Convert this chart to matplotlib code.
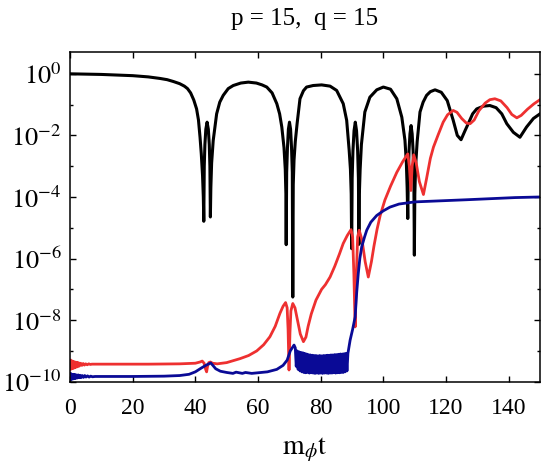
import numpy as np
import matplotlib
matplotlib.use("Agg")
import matplotlib.pyplot as plt
from matplotlib.ticker import FixedLocator, FixedFormatter, NullFormatter

plt.rcParams['font.family'] = ['Liberation Serif', 'DejaVu Serif']
plt.rcParams['mathtext.fontset'] = 'stix'

# values, as (t, log10 of the quantity)
black_t = [0, 10, 20, 25, 28.7, 31, 33, 35, 36.5, 37.5, 38.5, 39.5, 40.4, 41.0, 41.5, 41.9, 42.3, 42.55,
           42.7, 42.85, 43.05, 43.35, 43.75, 44.15, 44.45, 44.65, 44.8, 44.95, 45.2, 45.7, 46.8, 47.8,
           48.9, 50.5, 52.1, 54.5, 56.9, 59.5, 61.3, 62.8, 64.5, 66.0, 66.9, 67.6, 68.3, 68.7, 68.9,
           69.0, 69.15, 69.4, 69.7, 70.05, 70.4, 70.7, 70.95, 71.1, 71.25, 71.5, 71.9, 72.5, 73.4,
           74.5, 75.5, 77.6, 80.3, 83.0, 85.1, 87.2, 88.3, 89.1, 89.5, 89.75, 89.9, 90.05, 90.3,
           90.65, 91.05, 91.45, 91.8, 92.05, 92.2, 92.35, 92.6, 93.0, 94.1, 95.7, 97.9, 100.0,
           102.3, 104.3, 105.9, 106.9, 107.35, 107.6, 107.8, 107.95, 108.2, 108.5, 108.85, 109.2,
           109.5, 109.75, 109.9, 110.05, 110.3, 110.8, 111.7, 112.7, 113.8, 115.0, 116.5, 118.5,
           120.4, 122.3, 123.6, 124.8, 126.1, 127.1, 128.5, 129.8, 132.0, 134.0, 136.0, 137.8,
           139.4, 141.5, 143.6, 145.7, 147.9, 150.0]
black_log = [0.0, -0.02, -0.06, -0.1, -0.15, -0.19, -0.25, -0.32, -0.4, -0.48, -0.62, -0.85, -1.14, -1.5,
             -2.06, -2.6, -3.3, -4.0, -4.79, -3.0, -2.3, -1.8, -1.57, -1.8, -2.3, -3.0, -4.65, -3.7,
             -2.9, -2.17, -1.3, -0.92, -0.7, -0.48, -0.38, -0.3, -0.27, -0.3, -0.36, -0.43, -0.62,
             -0.97, -1.3, -1.73, -2.4, -3.1, -3.9, -5.55, -3.2, -2.4, -1.8, -1.57, -1.8, -2.4, -3.2,
             -7.25, -3.6, -2.8, -2.2, -1.6, -0.81, -0.55, -0.43, -0.38, -0.36, -0.4, -0.54, -0.97,
             -1.51, -2.49, -3.1, -3.9, -5.68, -3.4, -2.5, -1.85, -1.57, -1.85, -2.5, -3.4, -5.54,
             -3.9, -3.1, -2.3, -1.24, -0.76, -0.52, -0.43, -0.5, -0.81, -1.41, -2.16, -2.9, -3.7,
             -4.7, -3.4, -2.5, -1.95, -1.68, -1.95, -2.5, -3.4, -5.89, -3.9, -3.0, -2.2, -1.24,
             -0.92, -0.7, -0.58, -0.52, -0.6, -0.87, -1.51, -2.0, -2.14, -1.84, -1.62, -1.3, -1.14,
             -1.05, -1.03, -1.1, -1.3, -1.62, -1.9, -2.06, -1.73, -1.45, -1.3]

red_t = [0.0, 0.2, 0.4, 0.6, 0.8, 1.0, 1.2, 1.4, 1.6, 1.8, 2.0, 2.2, 2.4, 2.6, 2.8, 3.0, 3.4, 3.8,
         4.2, 4.6, 5.0, 5.5, 6.0, 6.5, 7.0, 8.0, 15.0, 25.0, 35.0, 40.0, 41.5, 42.2, 42.8, 43.3,
         43.6, 43.9, 44.3, 44.8, 45.5, 47.0, 50.0, 54.3, 57.0, 59.6, 61.8, 63.8, 65.5, 67.0, 68.0,
         68.8, 69.3, 69.6, 69.9, 70.2, 70.5, 71.1, 71.8, 72.6, 73.5, 74.5, 75.3, 76.0, 77.0, 78.5,
         80.3, 81.5, 83.0, 84.5, 86.0, 87.2, 88.5, 89.7, 90.2, 90.6, 91.0, 91.4, 91.8, 92.3, 93.2,
         94.2, 95.2, 96.2, 97.0, 98.0, 99.0, 100.5, 102.3, 104.3, 106.2, 107.8, 108.3, 108.8,
         109.2, 109.7, 110.5, 111.5, 112.8, 113.8, 115.0, 116.0, 117.5, 119.1, 120.5, 122.3,
         123.5, 125.0, 126.5, 127.7, 129.0, 130.5, 132.5, 134.0, 135.6, 137.5, 139.5, 141.0,
         142.6, 144.0, 146.0, 148.0, 150.0]
red_log = [-9.3, -9.6, -9.32, -9.58, -9.33, -9.57, -9.35, -9.55, -9.36, -9.53, -9.37, -9.52, -9.38,
           -9.5, -9.39, -9.49, -9.4, -9.47, -9.41, -9.46, -9.42, -9.45, -9.42, -9.44, -9.43, -9.43,
           -9.43, -9.43, -9.42, -9.4, -9.36, -9.33, -9.4, -9.6, -9.68, -9.5, -9.38, -9.36, -9.4,
           -9.42, -9.38, -9.25, -9.15, -9.0, -8.8, -8.54, -8.2, -7.78, -7.55, -7.43, -7.6, -8.3,
           -9.62, -8.4, -7.7, -7.46, -7.6, -8.0, -8.45, -8.7, -8.55, -8.2, -7.8, -7.35, -7.0,
           -6.85, -6.6, -6.25, -5.85, -5.51, -5.25, -5.06, -5.3, -6.5, -8.22, -6.5, -5.3, -5.08,
           -5.4, -6.1, -6.6, -6.1, -5.6, -5.05, -4.6, -4.1, -3.65, -3.2, -2.85, -2.6, -3.0, -3.79,
           -3.0, -2.63, -2.9, -3.5, -3.92, -3.4, -2.75, -2.38, -1.98, -1.57, -1.33, -1.19, -1.25,
           -1.45, -1.6, -1.62, -1.5, -1.2, -0.95, -0.84, -0.81, -0.88, -1.1, -1.32, -1.43, -1.35,
           -1.15, -0.98, -0.84]

blue_t = [0.0, 0.2, 0.4, 0.6, 0.8, 1.0, 1.2, 1.4, 1.6, 1.8, 2.0, 2.3, 2.6, 2.9, 3.2, 3.5, 3.9, 4.3,
          4.7, 5.1, 5.6, 6.1, 6.6, 7.2, 8.0, 10.0, 20.0, 30.0, 35.0, 38.0, 40.0, 42.0, 43.5, 44.9,
          45.6, 46.5, 48.0, 50.0, 52.0, 53.0, 55.0, 56.0, 58.0, 60.0, 63.0, 66.0, 68.0, 69.3, 70.3,
          71.5, 71.9,
          72.2, 72.5, 72.8, 73.1, 73.4, 73.7, 74.0, 74.3, 74.6, 74.9, 75.2, 75.5, 75.8, 76.1, 76.4,
          76.7, 77.0, 77.3, 77.6, 77.9, 78.2, 78.5, 78.8, 79.1, 79.4, 79.7, 80.0, 80.3, 80.6, 80.9,
          81.2, 81.5, 81.8, 82.1, 82.4, 82.7, 83.0, 83.3, 83.6, 83.9, 84.2, 84.5, 84.8, 85.1, 85.4,
          85.7, 86.0, 86.3, 86.6, 86.9, 87.2, 87.5, 87.8, 88.1, 88.4, 88.7,
          89.4, 90.2, 91.0, 91.5, 92.0, 92.5, 93.1, 94.0, 94.7, 96.0, 97.9, 100.0, 102.1, 105.0,
          110.0, 115.0, 120.0, 126.6, 135.0, 142.0, 150.0]
blue_log = [-9.73, -9.93, -9.75, -9.92, -9.76, -9.91, -9.77, -9.9, -9.77, -9.89, -9.78, -9.88, -9.78,
            -9.87, -9.79, -9.87, -9.8, -9.86, -9.8, -9.85, -9.81, -9.85, -9.82, -9.84, -9.83, -9.83,
            -9.83, -9.82, -9.8, -9.76, -9.68, -9.55, -9.46, -9.39, -9.47, -9.58, -9.66, -9.7, -9.73,
            -9.69, -9.73, -9.7, -9.73, -9.71, -9.68, -9.6, -9.47, -9.3, -9.0, -8.81, -8.9,
            -9.5, -9.0, -9.6, -9.03, -9.65, -9.05, -9.68, -9.06, -9.7, -9.08, -9.71, -9.1, -9.7,
            -9.12, -9.72, -9.13, -9.71, -9.14, -9.72, -9.15, -9.73, -9.15, -9.72, -9.16, -9.73,
            -9.15, -9.72, -9.16, -9.73, -9.15, -9.72, -9.15, -9.72, -9.14, -9.73, -9.14, -9.72,
            -9.13, -9.72, -9.13, -9.71, -9.12, -9.72, -9.12, -9.71, -9.11, -9.71, -9.1, -9.7,
            -9.1, -9.7, -9.09, -9.68, -9.08, -9.65, -9.08,
            -8.65, -8.3, -7.9, -7.1, -6.49, -6.0, -5.62, -5.3, -5.08, -4.82, -4.6, -4.45, -4.33,
            -4.23, -4.16, -4.14, -4.12, -4.09, -4.05, -4.02, -4.0]

xticks = [0, 20, 40, 60, 80, 100, 120, 140]
ymajor = [1e0, 1e-2, 1e-4, 1e-6, 1e-8, 1e-10]
ymajor_labels = [r'$10^{0}$', r'$10^{-2}$', r'$10^{-4}$', r'$10^{-6}$', r'$10^{-8}$', r'$10^{-10}$']
yminor = [1e-1, 1e-3, 1e-5, 1e-7, 1e-9]

fig = plt.figure(figsize=(5.42, 4.71), dpi=100)
ax = fig.add_axes([70 / 542, 1 - 381.7 / 471, 470 / 542, 329.4 / 471])

ax.plot(black_t, 10 ** np.array(black_log), color='black', lw=2.2)
ax.plot(red_t, 10 ** np.array(red_log), color='#ee3030', lw=2.0)
ax.plot(blue_t, 10 ** np.array(blue_log), color='#0a0a96', lw=2.0)

ax.set_yscale('log')
ax.set_xlim(0, 150)
ax.set_ylim(1e-10, 5)

ax.xaxis.set_major_locator(FixedLocator(xticks))
ax.yaxis.set_major_locator(FixedLocator(ymajor))
ax.yaxis.set_major_formatter(FixedFormatter(ymajor_labels))
ax.yaxis.set_minor_locator(FixedLocator(yminor))
ax.yaxis.set_minor_formatter(NullFormatter())

ax.tick_params(which='both', direction='in', top=True, right=True, width=1.0)
ax.tick_params(which='major', length=4.5)
ax.tick_params(which='minor', length=2.5)
ax.tick_params(axis='x', labelsize=17, pad=12)
ax.tick_params(axis='y', labelsize=19, pad=6)
for s in ax.spines.values():
    s.set_linewidth(1.1)

ax.set_title('p = 15,  q = 15', fontsize=18, pad=20)
ax.set_xlabel(r'$\mathrm{m}_{\phi}\mathrm{t}$', fontsize=20, labelpad=12)

fig.savefig('out.png', dpi=100)
